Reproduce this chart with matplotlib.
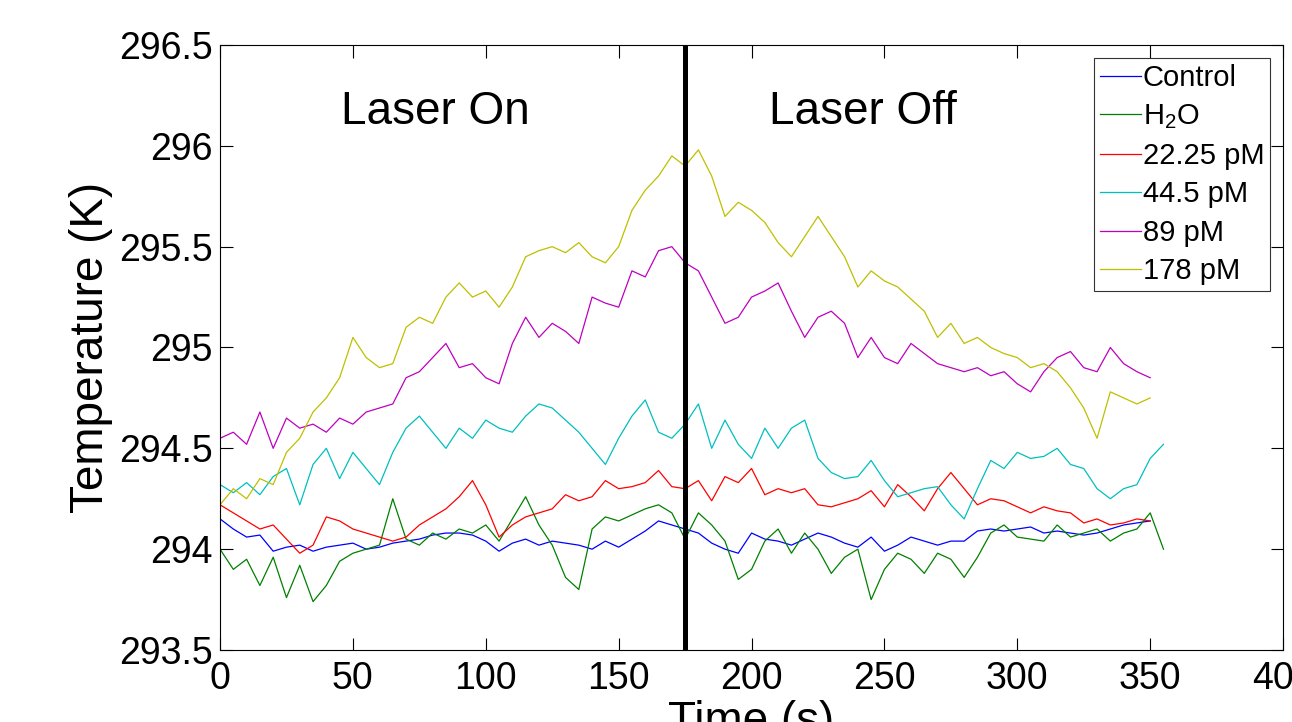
import numpy as np
import matplotlib
matplotlib.use("Agg")
import matplotlib.pyplot as plt

plt.rcParams['font.family'] = ['Liberation Sans', 'DejaVu Sans']
plt.rcParams['mathtext.default'] = 'regular'

# temperature (K) read every 5 s off the picture
control = [294.15, 294.10, 294.06, 294.07, 293.99, 294.01, 294.02, 293.99, 294.01, 294.02,
           294.03, 294.00, 294.01, 294.03, 294.04, 294.05, 294.07, 294.08, 294.08, 294.07,
           294.04, 293.99, 294.03, 294.05, 294.02, 294.04, 294.03, 294.02, 294.00, 294.04,
           294.01, 294.05, 294.09, 294.14, 294.12, 294.10, 294.08, 294.03, 294.00, 293.98,
           294.08, 294.05, 294.04, 294.02, 294.05, 294.08, 294.06, 294.03, 294.01, 294.06,
           293.99, 294.02, 294.06, 294.04, 294.02, 294.04, 294.04, 294.09, 294.10, 294.09,
           294.10, 294.11, 294.08, 294.09, 294.08, 294.07, 294.08, 294.10, 294.12, 294.13,
           294.14]
h2o = [294.00, 293.90, 293.95, 293.82, 293.96, 293.76, 293.92, 293.74, 293.82, 293.94,
       293.98, 294.00, 294.02, 294.25, 294.05, 294.02, 294.08, 294.05, 294.10, 294.08,
       294.12, 294.04, 294.15, 294.26, 294.12, 294.02, 293.86, 293.80, 294.10, 294.16,
       294.14, 294.17, 294.20, 294.22, 294.18, 294.05, 294.18, 294.12, 294.04, 293.85,
       293.90, 294.04, 294.10, 293.98, 294.08, 294.00, 293.88, 293.96, 294.00, 293.75,
       293.90, 293.98, 293.95, 293.88, 293.98, 293.95, 293.86, 293.96, 294.08, 294.12,
       294.06, 294.05, 294.04, 294.12, 294.06, 294.08, 294.10, 294.04, 294.08, 294.10,
       294.18, 294.00]
c22 = [294.22, 294.18, 294.14, 294.10, 294.12, 294.05, 293.98, 294.02, 294.16, 294.14,
       294.10, 294.08, 294.06, 294.04, 294.06, 294.12, 294.16, 294.20, 294.26, 294.34,
       294.22, 294.06, 294.12, 294.16, 294.18, 294.20, 294.27, 294.24, 294.26, 294.34,
       294.30, 294.31, 294.33, 294.39, 294.31, 294.30, 294.34, 294.24, 294.36, 294.33,
       294.40, 294.27, 294.30, 294.28, 294.30, 294.22, 294.21, 294.23, 294.25, 294.29,
       294.21, 294.32, 294.26, 294.19, 294.30, 294.38, 294.30, 294.22, 294.25, 294.24,
       294.21, 294.18, 294.21, 294.19, 294.18, 294.13, 294.15, 294.12, 294.13, 294.15,
       294.14]
c44 = [294.32, 294.28, 294.33, 294.27, 294.36, 294.40, 294.22, 294.42, 294.50, 294.35,
       294.48, 294.40, 294.32, 294.48, 294.60, 294.66, 294.58, 294.50, 294.60, 294.55,
       294.64, 294.60, 294.58, 294.66, 294.72, 294.70, 294.64, 294.58, 294.50, 294.42,
       294.55, 294.66, 294.74, 294.58, 294.55, 294.62, 294.72, 294.50, 294.64, 294.52,
       294.45, 294.60, 294.50, 294.60, 294.64, 294.45, 294.38, 294.35, 294.36, 294.44,
       294.34, 294.26, 294.28, 294.30, 294.31, 294.22, 294.15, 294.30, 294.44, 294.40,
       294.48, 294.45, 294.46, 294.50, 294.42, 294.40, 294.30, 294.25, 294.30, 294.32,
       294.45, 294.52]
c89 = [294.55, 294.58, 294.52, 294.68, 294.50, 294.65, 294.60, 294.62, 294.58, 294.65,
       294.62, 294.68, 294.70, 294.72, 294.85, 294.88, 294.95, 295.02, 294.90, 294.92,
       294.85, 294.82, 295.02, 295.15, 295.05, 295.12, 295.08, 295.02, 295.25, 295.22,
       295.20, 295.38, 295.35, 295.48, 295.50, 295.42, 295.38, 295.25, 295.12, 295.15,
       295.25, 295.28, 295.32, 295.18, 295.05, 295.15, 295.18, 295.12, 294.95, 295.05,
       294.95, 294.92, 295.02, 294.97, 294.92, 294.90, 294.88, 294.90, 294.86, 294.88,
       294.82, 294.78, 294.88, 294.95, 294.98, 294.90, 294.88, 295.00, 294.92, 294.88,
       294.85]
c178 = [294.22, 294.30, 294.25, 294.35, 294.32, 294.48, 294.55, 294.68, 294.75, 294.85,
        295.05, 294.95, 294.90, 294.92, 295.10, 295.15, 295.12, 295.25, 295.32, 295.25,
        295.28, 295.20, 295.30, 295.45, 295.48, 295.50, 295.47, 295.52, 295.45, 295.42,
        295.50, 295.68, 295.78, 295.85, 295.95, 295.90, 295.98, 295.85, 295.65, 295.72,
        295.68, 295.62, 295.52, 295.45, 295.55, 295.65, 295.55, 295.45, 295.30, 295.38,
        295.33, 295.30, 295.24, 295.18, 295.05, 295.12, 295.02, 295.05, 295.00, 294.97,
        294.95, 294.90, 294.92, 294.88, 294.80, 294.70, 294.55, 294.78, 294.75, 294.72,
        294.75]

series = [control, h2o, c22, c44, c89, c178]
labels = ['Control', 'H$_2$O', '22.25 pM', '44.5 pM', '89 pM', '178 pM']
colors = [(0, 0, 1), (0, 0.5, 0), (1, 0, 0), (0, 0.75, 0.75), (0.75, 0, 0.75), (0.75, 0.75, 0)]
laser_off_time = 175

fig = plt.figure(figsize=(12.92, 7.22), dpi=100)
ax = fig.add_axes([0.1703, 0.0997, 0.8228, 0.838])

for vals, lab, col in zip(series, labels, colors):
    t = np.arange(len(vals)) * 5
    ax.plot(t, vals, color=col, lw=0.9, label=lab)

ax.axvline(laser_off_time, color='black', lw=3.6)

ax.text(81, 296.17, 'Laser On', fontsize=33, ha='center', va='center')
ax.text(242, 296.17, 'Laser Off', fontsize=33, ha='center', va='center')

ax.set_xlim(0, 400)
ax.set_ylim(293.5, 296.5)
ax.set_xticks(np.arange(0, 401, 50))
ax.set_yticks(np.arange(293.5, 296.51, 0.5))
ax.set_yticklabels(['293.5', '294', '294.5', '295', '295.5', '296', '296.5'])
ax.tick_params(direction='in', length=9, width=0.8, top=True, right=True, labelsize=27)
ax.tick_params(axis='x', pad=8)
ax.tick_params(axis='y', pad=5)
for sp in ax.spines.values():
    sp.set_linewidth(0.8)

ax.set_ylabel('Temperature (K)', fontsize=33)
ax.yaxis.set_label_coords(-0.101, 0.5)
ax.set_xlabel('Time (s)', fontsize=33)
ax.xaxis.set_label_coords(0.5, -0.082)

leg = ax.legend(loc='upper right', fontsize=21, frameon=True, fancybox=False,
                edgecolor='black', handlelength=1.4, handletextpad=0.05,
                labelspacing=0.36, borderpad=0.2, borderaxespad=0.45)
leg.get_frame().set_linewidth(0.8)

fig.savefig('out.png', dpi=100)
